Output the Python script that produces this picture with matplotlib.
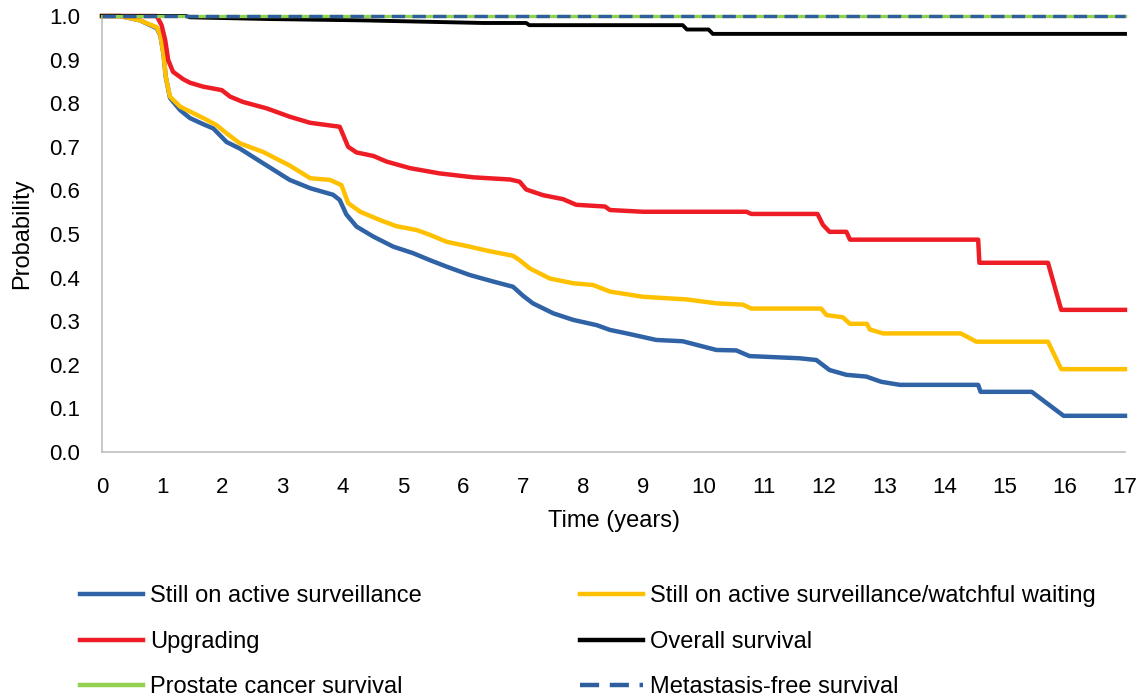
#!/usr/bin/env python3
"""
Kaplan-Meier style curves for an active surveillance cohort.
"""

import matplotlib
matplotlib.use('Agg')  # no display here
import matplotlib.pyplot as plt
from matplotlib.lines import Line2D

plt.rcParams['font.family'] = ['Liberation Sans', 'DejaVu Sans']

# Still on active surveillance (blue)
as_time = [0, 0.30, 0.63, 0.91, 0.97, 1.02, 1.06, 1.13, 1.30, 1.46, 1.68, 1.85, 2.07, 2.29,
           2.68, 3.12, 3.46, 3.84, 3.95, 4.06, 4.23, 4.51, 4.84, 5.17, 5.45, 5.73, 6.11,
           6.50, 6.83, 7.00, 7.16, 7.50, 7.83, 8.22, 8.44, 8.72, 9.21, 9.65, 10.21, 10.54,
           10.76, 11.59, 11.87, 12.09, 12.37, 12.70, 12.95, 13.26, 14.56, 14.60, 15.45,
           15.98, 17]
as_prob = [1.0, 1.0, 0.99, 0.972, 0.955, 0.914, 0.86, 0.812, 0.784, 0.766, 0.752, 0.742,
           0.711, 0.696, 0.662, 0.624, 0.605, 0.590, 0.578, 0.545, 0.517, 0.494, 0.471,
           0.456, 0.440, 0.425, 0.406, 0.391, 0.379, 0.358, 0.341, 0.318, 0.303, 0.291,
           0.280, 0.272, 0.257, 0.254, 0.234, 0.233, 0.220, 0.215, 0.211, 0.188, 0.177,
           0.173, 0.161, 0.154, 0.154, 0.138, 0.138, 0.083, 0.083]

# Still on active surveillance/watchful waiting (yellow)
asww_time = [0, 0.30, 0.63, 0.91, 0.97, 1.02, 1.06, 1.13, 1.30, 1.46, 1.68, 1.90, 2.07, 2.29,
             2.68, 3.12, 3.46, 3.79, 3.98, 4.09, 4.29, 4.62, 4.89, 5.23, 5.45, 5.73, 6.11,
             6.39, 6.83, 6.94, 7.11, 7.44, 7.83, 8.16, 8.44, 8.99, 9.71, 10.21, 10.65,
             10.79, 11.95, 12.04, 12.31, 12.43, 12.71, 12.76, 12.98, 14.27, 14.53, 15.72,
             15.94, 17]
asww_prob = [1.0, 1.0, 0.99, 0.974, 0.956, 0.914, 0.86, 0.815, 0.792, 0.781, 0.766, 0.750,
             0.731, 0.708, 0.688, 0.657, 0.628, 0.624, 0.612, 0.571, 0.551, 0.532, 0.518,
             0.509, 0.498, 0.482, 0.471, 0.462, 0.450, 0.440, 0.421, 0.398, 0.387, 0.383,
             0.368, 0.356, 0.350, 0.341, 0.338, 0.329, 0.329, 0.314, 0.309, 0.294, 0.294,
             0.281, 0.272, 0.272, 0.253, 0.253, 0.190, 0.190]

# Upgrading (red)
up_time = [0, 0.91, 0.99, 1.05, 1.10, 1.18, 1.35, 1.46, 1.68, 1.99, 2.13, 2.34, 2.74, 3.12,
           3.46, 3.95, 4.09, 4.23, 4.51, 4.73, 5.12, 5.61, 6.17, 6.78, 6.94, 7.05, 7.33,
           7.66, 7.88, 8.36, 8.44, 8.99, 10.71, 10.79, 11.89, 11.98, 12.09, 12.37, 12.43,
           14.56, 14.58, 15.72, 15.94, 17]
up_prob = [1.0, 1.0, 0.979, 0.945, 0.899, 0.872, 0.855, 0.847, 0.838, 0.830, 0.815, 0.803,
           0.788, 0.769, 0.755, 0.746, 0.700, 0.687, 0.679, 0.666, 0.651, 0.639, 0.630,
           0.625, 0.620, 0.602, 0.589, 0.580, 0.567, 0.563, 0.555, 0.551, 0.551, 0.546,
           0.546, 0.521, 0.505, 0.505, 0.487, 0.487, 0.434, 0.434, 0.326, 0.326]

# Overall survival (black)
os_time = [0, 1.40, 1.46, 2.79, 4.33, 5.33, 6.33, 7.05, 7.10, 9.65, 9.72, 10.08, 10.15, 17]
os_prob = [1.0, 1.0, 0.997, 0.993, 0.990, 0.987, 0.984, 0.984, 0.979, 0.979, 0.969, 0.969,
           0.959, 0.959]

# Prostate cancer survival / metastasis-free survival stay at 1.0
pcs_time = [0, 17]
pcs_prob = [1.0, 1.0]
mfs_time = [0, 17]
mfs_prob = [1.0, 1.0]

x_ticks = list(range(0, 18))
y_ticks = [0.0, 0.1, 0.2, 0.3, 0.4, 0.5, 0.6, 0.7, 0.8, 0.9, 1.0]

BLUE = '#2f63a6'
YELLOW = '#ffc000'
RED = '#ee1c25'
GREEN = '#92d050'
DASH_BLUE = '#2f5e9e'


def main():
    fig = plt.figure(figsize=(11.39, 6.98), dpi=100)
    ax = fig.add_axes([102 / 1139, 1 - 452 / 698, 1023 / 1139, 436 / 698])

    lw = 3.2
    ax.plot(as_time, as_prob, color=BLUE, lw=lw, clip_on=False, zorder=2)
    ax.plot(asww_time, asww_prob, color=YELLOW, lw=lw, clip_on=False, zorder=3)
    ax.plot(up_time, up_prob, color=RED, lw=lw, clip_on=False, zorder=4)
    ax.plot(os_time, os_prob, color='black', lw=2.8, clip_on=False, zorder=5)
    ax.plot(pcs_time, pcs_prob, color=GREEN, lw=2.4, clip_on=False, zorder=6)
    ax.plot(mfs_time, mfs_prob, color=DASH_BLUE, lw=2.4, dashes=(4.0, 2.2),
            clip_on=False, zorder=7)

    ax.set_xlim(0, 17)
    ax.set_ylim(0, 1.0)
    ax.set_xticks(x_ticks)
    ax.set_xticklabels([str(x) for x in x_ticks])
    ax.set_yticks(y_ticks)
    ax.set_yticklabels(['%.1f' % y for y in y_ticks])
    ax.tick_params(axis='both', length=0, labelsize=16)
    ax.tick_params(axis='x', pad=18)
    ax.tick_params(axis='y', pad=16)

    for side in ('top', 'right'):
        ax.spines[side].set_visible(False)
    for side in ('left', 'bottom'):
        ax.spines[side].set_color('#bfbfbf')
        ax.spines[side].set_linewidth(1.2)

    ax.set_xlabel('Time (years)', fontsize=17, labelpad=9)
    ax.set_ylabel('Probability', fontsize=17, labelpad=11)

    # two single-column legends so the columns line up with the original
    left_handles = [Line2D([], [], color=BLUE, lw=lw),
                    Line2D([], [], color=RED, lw=lw),
                    Line2D([], [], color=GREEN, lw=lw)]
    left_labels = ['Still on active surveillance', 'Upgrading', 'Prostate cancer survival']
    right_handles = [Line2D([], [], color=YELLOW, lw=lw),
                     Line2D([], [], color='black', lw=lw),
                     Line2D([], [], color=DASH_BLUE, lw=lw, dashes=(4.3, 2.4))]
    right_labels = ['Still on active surveillance/watchful waiting', 'Overall survival',
                    'Metastasis-free survival']

    legend_kw = dict(loc='upper left', frameon=False, fontsize=17, borderpad=0,
                     borderaxespad=0, handlelength=2.65, handletextpad=0.3,
                     labelspacing=1.0)
    fig.legend(left_handles, left_labels, bbox_to_anchor=(80 / 1139, 0.1615), **legend_kw)
    fig.legend(right_handles, right_labels, bbox_to_anchor=(580 / 1139, 0.1615), **legend_kw)

    fig.savefig('out.png', dpi=100)
    plt.close(fig)


if __name__ == "__main__":
    main()
